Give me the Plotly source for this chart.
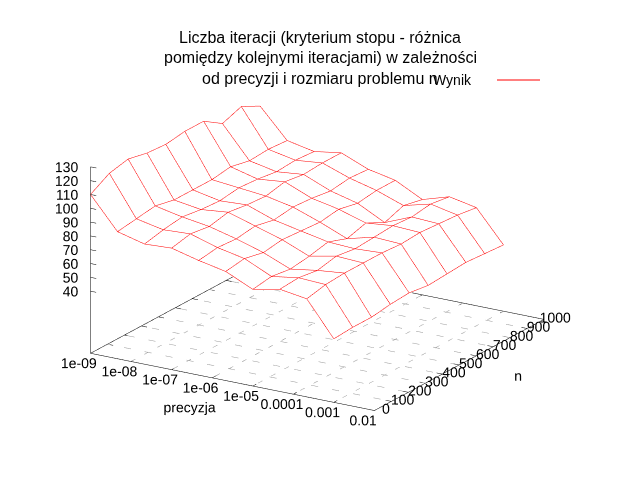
import numpy as np
import plotly.graph_objects as go

# siatka pomiarow: precyzja (10 wartosci) x rozmiar problemu n (10 wartosci)
precyzja = [1e-9, 4.64e-9, 2.15e-8, 1e-7, 4.64e-7, 2.15e-6, 1e-5, 4.64e-5, 2.15e-4, 1e-3]
n_vals = [0, 111, 222, 333, 444, 556, 667, 778, 889, 1000]

# wynik[i][j] - liczba iteracji dla precyzja[i] i n_vals[j]
wynik = [
    [110, 118, 121, 118, 117, 119, 119, 110, 115, 108],
    [87, 89, 91, 88, 88, 88, 90, 87, 88, 87],
    [82, 85, 87, 85, 84, 86, 85, 83, 84, 83],
    [83, 86, 84, 87, 85, 84, 87, 85, 86, 86],
    [78, 80, 79, 81, 78, 80, 79, 77, 79, 78],
    [74, 76, 73, 75, 74, 73, 75, 72, 74, 74],
    [65, 67, 65, 67, 70, 65, 69, 62, 67, 64],
    [69, 70, 68, 71, 69, 70, 71, 70, 72, 70],
    [66, 69, 70, 70, 70, 69, 70, 69, 68, 66],
    [41, 42, 42, 44, 45, 43, 44, 45, 44, 43],
]

x_tickvals = [1e-9, 1e-8, 1e-7, 1e-6, 1e-5, 1e-4, 1e-3, 1e-2]
x_ticktext = ["1e-09", "1e-08", "1e-07", "1e-06", "1e-05", "0.0001", "0.001", "0.01"]
y_tickvals = [0, 100, 200, 300, 400, 500, 600, 700, 800, 900, 1000]
z_tickvals = [40, 50, 60, 70, 80, 90, 100, 110, 120, 130]

title_lines = ["Liczba iteracji (kryterium stopu - różnica",
               "pomiędzy kolejnymi iteracjami) w zależności",
               "od precyzji i rozmiaru problemu n"]

FONT = "Liberation Sans, Arial, sans-serif"

lx = np.log10(precyzja)
Z = np.array(wynik, dtype=float)
xt = np.log10(x_tickvals)
x0, x1 = xt[0], xt[-1]
y0, y1 = y_tickvals[0], y_tickvals[-1]
zbase = -5.0

fig = go.Figure()

# bialy, nieprzezroczysty spod siatki - zaslania linie z tylu (hidden3d)
fig.add_trace(go.Surface(
    x=lx, y=n_vals, z=Z.T - 0.7,
    colorscale=[[0, "white"], [1, "white"]], showscale=False,
    lighting=dict(ambient=1, diffuse=0, specular=0, fresnel=0, roughness=1),
    hoverinfo="skip"))

# siatka druciana
wx, wy, wz = [], [], []
for i in range(len(lx)):
    for j in range(len(n_vals)):
        wx.append(lx[i]); wy.append(n_vals[j]); wz.append(Z[i, j])
    wx.append(None); wy.append(None); wz.append(None)
for j in range(len(n_vals)):
    for i in range(len(lx)):
        wx.append(lx[i]); wy.append(n_vals[j]); wz.append(Z[i, j])
    wx.append(None); wy.append(None); wz.append(None)
fig.add_trace(go.Scatter3d(x=wx, y=wy, z=wz, mode="lines",
                           line=dict(color="#ff0000", width=1),
                           hoverinfo="skip", showlegend=False))

# siatka na podstawie (przerywana)
gx, gy, gz = [], [], []
for t in xt[1:-1]:
    gx += [t, t, None]; gy += [y0, y1, None]; gz += [zbase, zbase, None]
for t in y_tickvals[1:-1]:
    gx += [x0, x1, None]; gy += [t, t, None]; gz += [zbase, zbase, None]
fig.add_trace(go.Scatter3d(x=gx, y=gy, z=gz, mode="lines",
                           line=dict(color="#999999", width=1, dash="dot"),
                           hoverinfo="skip", showlegend=False))

# ramka podstawy, os z i znaczniki
bx = [x0, x1, x1, x0, x0, None, x0, x0]
by = [y0, y0, y1, y1, y0, None, y0, y0]
bz = [zbase] * 5 + [None, zbase, z_tickvals[-1]]
ty = 0.02 * (y1 - y0)
tx = 0.02 * (x1 - x0)
for t in xt:
    bx += [None, t, t, None, t, t]
    by += [None, y0, y0 + ty, None, y1, y1 - ty]
    bz += [None, zbase, zbase, None, zbase, zbase]
for t in y_tickvals:
    bx += [None, x0, x0 + tx, None, x1, x1 - tx]
    by += [None, t, t, None, t, t]
    bz += [None, zbase, zbase, None, zbase, zbase]
for t in z_tickvals:
    bx += [None, x0, x0 + tx]
    by += [None, y0, y0]
    bz += [None, t, t]
fig.add_trace(go.Scatter3d(x=bx, y=by, z=bz, mode="lines",
                           line=dict(color="black", width=1),
                           hoverinfo="skip", showlegend=False))

# podpisy osi
tf = dict(family=FONT, size=14, color="black")
fig.add_trace(go.Scatter3d(x=xt + 0.05, y=[-80] * len(xt), z=[zbase - 1.5] * len(xt),
                           mode="text", text=x_ticktext, textfont=tf,
                           textposition="middle center", hoverinfo="skip", showlegend=False))
fig.add_trace(go.Scatter3d(x=[x1 + 0.28] * len(y_tickvals), y=y_tickvals, z=[zbase + 3] * len(y_tickvals),
                           mode="text", text=[str(v) for v in y_tickvals], textfont=tf,
                           textposition="middle center", hoverinfo="skip", showlegend=False))
fig.add_trace(go.Scatter3d(x=[x0 + 0.03] * len(z_tickvals), y=[y0] * len(z_tickvals), z=z_tickvals,
                           mode="text", text=[str(v) for v in z_tickvals], textfont=tf,
                           textposition="middle left", hoverinfo="skip", showlegend=False))
fig.add_trace(go.Scatter3d(x=[(x0 + x1) / 2 + 0.12, x1 + 1.45], y=[-280, 500], z=[zbase, zbase],
                           mode="text", text=["precyzja", "n"], textfont=tf,
                           textposition="middle center", hoverinfo="skip", showlegend=False))

# zakresy symetryczne wokol srodka danych, zeby etykiety nie byly obcinane
cx, cy, cz = (x0 + x1) / 2, (y0 + y1) / 2, (zbase + z_tickvals[-1]) / 2
hx, hy, hz = 5.1, 820, 75
ax = dict(visible=False, showspikes=False)

# kamera: widok jak w gnuplocie (set view 60,30), rzut prostokatny
eye_dir = np.array([0.493, -0.805, 0.329])
shift = np.array([0.042, 0.017, -0.019])
eye = eye_dir * 1.45 + shift
k = 1.36
fig.update_layout(
    width=640, height=480,
    paper_bgcolor="white",
    margin=dict(l=0, r=0, t=0, b=0),
    showlegend=False,
    hovermode=False,
    scene=dict(
        domain=dict(x=[0, 1], y=[0, 1]),
        xaxis=dict(range=[cx - hx, cx + hx], **ax),
        yaxis=dict(range=[cy - hy, cy + hy], **ax),
        zaxis=dict(range=[cz - hz, cz + hz], **ax),
        aspectmode="manual",
        aspectratio=dict(x=k * hx * 2 / 7 * 1.02, y=k * hy * 2 / 1000 * 0.995,
                         z=k * hz * 2 / 135 * 0.605),
        camera=dict(projection=dict(type="orthographic"),
                    up=dict(x=0, y=0, z=1),
                    center=dict(x=shift[0], y=shift[1], z=shift[2]),
                    eye=dict(x=eye[0], y=eye[1], z=eye[2])),
    ),
)

for k, line in enumerate(title_lines):
    fig.add_annotation(text=line, xref="paper", yref="paper",
                       x=312 / 640, y=1 - (29 + 20.5 * k) / 480,
                       xanchor="center", yanchor="middle", showarrow=False,
                       font=dict(family=FONT, size=16, color="black"))

# legenda w stylu gnuplota: tekst, potem probka linii
fig.add_annotation(text="Wynik", xref="paper", yref="paper",
                   x=466 / 640, y=1 - 72 / 480, xanchor="right", yanchor="middle",
                   showarrow=False, font=dict(family=FONT, size=14, color="black"))
fig.add_shape(type="line", xref="paper", yref="paper",
              x0=489 / 640, x1=532 / 640, y0=1 - 72 / 480, y1=1 - 72 / 480,
              line=dict(color="#ff0000", width=1))

fig.write_html("out.html")
